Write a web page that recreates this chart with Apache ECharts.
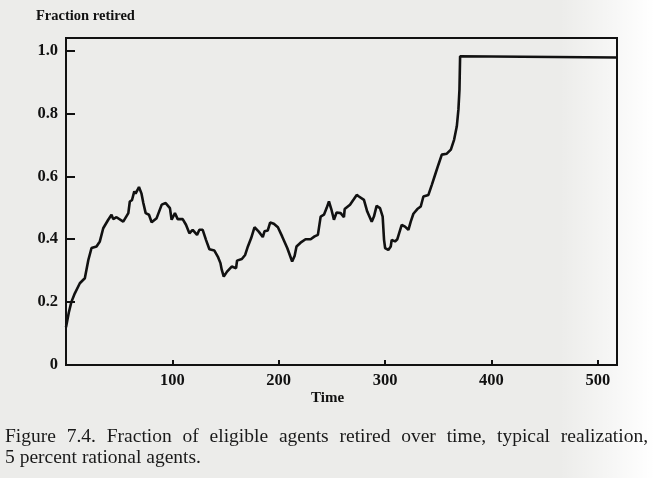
<!DOCTYPE html>
<html lang="en">
<head>
<meta charset="UTF-8">
<title>Figure 7.4</title>
<script src="https://cdn.jsdelivr.net/npm/echarts@6/dist/echarts.min.js"></script>
<style>
  * { margin: 0; }
  html, body { height: 100%; background: #ececea; }
  #chart { width: 654px; height: 478px; }
</style>
</head>
<body>
<div id="chart"></div>
<script>
// time steps and fraction retired
var time = [0, 2.6, 5, 8.3, 13, 17.7, 21, 24, 28.7, 31.8, 35, 39.7, 42.8, 44.4, 47.5, 53.8,
  58.6, 60, 62, 64.2, 65.4, 68.6, 71, 72.7, 74.9, 78, 80.5, 85.2, 90, 93.7, 97.7,
  99.3, 102.4, 105, 109.7, 112.8, 116, 119.1, 123.2, 125.4, 128.5, 131.6, 134.8, 139.5,
  142.7, 145.2, 146.4, 148.3, 151.4, 155.8, 159.9, 160.8, 165.3, 168.4, 171, 174, 177.2,
  181, 185, 186.6, 189.7, 191.9, 195.4, 199.2, 203.2, 208, 212.6, 214.9, 216.7, 220.5,
  225.2, 230, 233.7, 236.8, 239.4, 242.5, 245, 247.2, 249.4, 251.9, 254.4, 258.2, 261.3,
  262, 267, 270.7, 273.3, 275.4, 277, 280.1, 283.2, 287.4, 289.5, 292, 295.2, 297.7,
  299, 300, 303, 305.3, 306.2, 309.3, 311.5, 315.6, 318.7, 321.9, 324.1, 326.6, 330.3,
  333.5, 336, 340.7, 343.9, 347, 350.1, 353.3, 358, 361.8, 364.9, 367.4, 368.9, 369.9,
  370.5, 518];
var fraction = [0.12, 0.166, 0.2, 0.228, 0.26, 0.276, 0.334, 0.372, 0.377, 0.393, 0.435, 0.462,
  0.478, 0.464, 0.47, 0.456, 0.483, 0.52, 0.524, 0.552, 0.545, 0.566, 0.545, 0.515, 0.483,
  0.478, 0.454, 0.467, 0.51, 0.515, 0.499,
  0.462, 0.483, 0.464, 0.464, 0.446, 0.419, 0.43, 0.414, 0.43, 0.43, 0.398, 0.368, 0.364,
  0.345, 0.324, 0.303, 0.281, 0.297, 0.313, 0.308, 0.332, 0.337, 0.35, 0.377, 0.403, 0.438,
  0.425, 0.407, 0.425, 0.428, 0.453, 0.449, 0.438, 0.409, 0.372, 0.329, 0.347, 0.377, 0.389,
  0.4, 0.4, 0.409, 0.414, 0.472, 0.478, 0.499, 0.52, 0.496, 0.462, 0.485, 0.483, 0.47,
  0.496, 0.51, 0.528, 0.541, 0.536, 0.537, 0.525, 0.488, 0.456, 0.472, 0.506, 0.499, 0.472,
  0.398, 0.372, 0.366, 0.377, 0.398, 0.393, 0.4, 0.446, 0.44, 0.43, 0.456, 0.481, 0.496,
  0.504, 0.536, 0.541, 0.573, 0.605, 0.637, 0.669, 0.672, 0.685, 0.717, 0.759, 0.812, 0.876,
  0.982, 0.978];
var xTicks = [100, 200, 300, 400, 500];
var yTicks = [0, 0.2, 0.4, 0.6, 0.8, 1.0];

var captionLine1 = 'Figure 7.4. Fraction of eligible agents retired over time, typical realization,';
var captionLine2 = '5 percent rational agents.';

var serif = '"Liberation Serif", "DejaVu Serif", serif';

// justify the first caption line across the page, like the book does
var capFont = '19.5px ' + serif;
var ctx = document.createElement('canvas').getContext('2d');
ctx.font = capFont;
var words = captionLine1.split(' ');
var left = 5, right = 648;
var wordsW = 0;
words.forEach(function (w) { wordsW += ctx.measureText(w).width; });
var gap = (right - left - wordsW) / (words.length - 1);
var captionEls = [];
var cx = left;
words.forEach(function (w) {
  captionEls.push({ type: 'text', left: cx, top: 427, style: { text: w, font: capFont, fill: '#1a1a1a' } });
  cx += ctx.measureText(w).width + gap;
});
captionEls.push({ type: 'text', left: left, top: 448, style: { text: captionLine2, font: capFont, fill: '#1a1a1a' } });

var chart = echarts.init(document.getElementById('chart'));
chart.setOption({
  backgroundColor: '#ececea',
  animation: false,
  textStyle: { fontFamily: serif },
  grid: {
    left: 66, right: 37, top: 38, bottom: 113,
    show: true, borderColor: '#111', borderWidth: 2, backgroundColor: 'transparent'
  },
  graphic: [
    {
      type: 'rect', z: -10, silent: true,
      shape: { x: 560, y: 0, width: 94, height: 478 },
      style: {
        fill: new echarts.graphic.LinearGradient(0, 0, 1, 0, [
          { offset: 0, color: 'rgba(255,255,255,0)' },
          { offset: 1, color: 'rgba(255,255,255,1)' }
        ])
      }
    },
    { type: 'text', left: 36, top: 9, style: { text: 'Fraction retired', font: 'bold 14.5px ' + serif, fill: '#111' } },
    { type: 'text', left: 311, top: 391, style: { text: 'Time', font: 'bold 15px ' + serif, fill: '#111' } }
  ].concat(captionEls),
  xAxis: {
    type: 'value', min: 0, max: 518,
    splitLine: { show: false },
    axisLine: { lineStyle: { color: '#111', width: 2 } },
    axisTick: { inside: true, length: 5, customValues: xTicks, lineStyle: { color: '#111', width: 2 } },
    axisLabel: { customValues: xTicks, color: '#111', fontSize: 16.5, fontWeight: 'bold', margin: 7, fontFamily: serif }
  },
  yAxis: {
    type: 'value', min: 0, max: 1.04,
    splitLine: { show: false },
    axisLine: { show: true, lineStyle: { color: '#111', width: 2 } },
    axisTick: { show: true, inside: true, length: 9, customValues: yTicks, lineStyle: { color: '#111', width: 2 } },
    axisLabel: {
      customValues: yTicks, color: '#111', fontSize: 16.5, fontWeight: 'bold', margin: 8, fontFamily: serif,
      formatter: function (v) { return v === 0 ? '0' : v.toFixed(1); }
    }
  },
  series: [{
    type: 'line',
    data: time.map(function (t, i) { return [t, fraction[i]]; }),
    showSymbol: false,
    lineStyle: { color: '#111', width: 2.6 }
  }]
});
</script>
</body>
</html>
